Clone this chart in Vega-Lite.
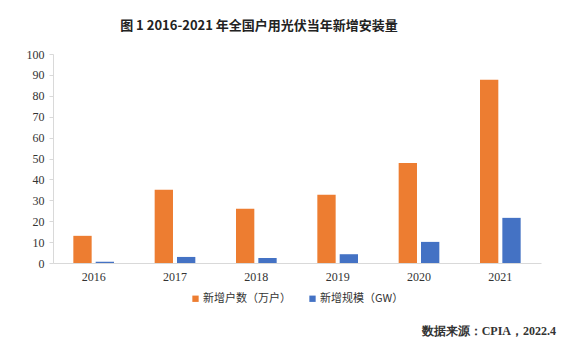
{
  "$schema": "https://vega.github.io/schema/vega-lite/v6.json",
  "padding": {"left": 26, "top": 20, "right": 30, "bottom": 10},
  "background": "white",
  "title": {
    "text": "图 1 2016-2021 年全国户用光伏当年新增安装量",
    "font": "Noto Sans CJK SC",
    "fontSize": 13,
    "fontWeight": "bold",
    "color": "#222222",
    "anchor": "middle",
    "frame": "group",
    "dx": -38,
    "offset": 15
  },
  "vconcat": [
    {
      "width": 488,
      "height": 209,
      "title": {
        "text": "数据来源：CPIA，2022.4",
        "orient": "bottom",
        "anchor": "end",
        "frame": "group",
        "font": "Liberation Serif",
        "fontSize": 12,
        "fontWeight": "bold",
        "color": "#333333",
        "dx": 15,
        "offset": 22
      },
      "data": {
        "values": [
          {"year": "2016", "series": "新增户数（万户）", "value": 13.0},
          {"year": "2016", "series": "新增规模（GW）", "value": 0.6},
          {"year": "2017", "series": "新增户数（万户）", "value": 35.1},
          {"year": "2017", "series": "新增规模（GW）", "value": 2.9},
          {"year": "2018", "series": "新增户数（万户）", "value": 26.0},
          {"year": "2018", "series": "新增规模（GW）", "value": 2.4},
          {"year": "2019", "series": "新增户数（万户）", "value": 32.6},
          {"year": "2019", "series": "新增规模（GW）", "value": 4.2},
          {"year": "2020", "series": "新增户数（万户）", "value": 47.8},
          {"year": "2020", "series": "新增规模（GW）", "value": 10.1},
          {"year": "2021", "series": "新增户数（万户）", "value": 87.7},
          {"year": "2021", "series": "新增规模（GW）", "value": 21.6}
        ]
      },
      "mark": {"type": "bar"},
      "encoding": {
        "x": {
          "field": "year",
          "type": "nominal",
          "scale": {"paddingInner": 0.5, "paddingOuter": 0.25},
          "axis": {
            "title": null,
            "labelAngle": 0,
            "ticks": false,
            "labelPadding": 8,
            "labelFont": "Liberation Serif",
            "labelFontSize": 12,
            "labelColor": "#333333",
            "domainColor": "#d9d9d9",
            "domainWidth": 1
          }
        },
        "xOffset": {
          "field": "series",
          "type": "nominal",
          "sort": ["新增户数（万户）", "新增规模（GW）"],
          "scale": {"paddingInner": 0.18, "paddingOuter": 0}
        },
        "y": {
          "field": "value",
          "type": "quantitative",
          "scale": {"domain": [0, 100], "nice": false},
          "axis": {
            "title": null,
            "values": [0, 10, 20, 30, 40, 50, 60, 70, 80, 90, 100],
            "grid": false,
            "tickSize": 4,
            "tickColor": "#d9d9d9",
            "labelPadding": 5,
            "labelFont": "Liberation Serif",
            "labelFontSize": 12,
            "labelColor": "#333333",
            "domainColor": "#d9d9d9"
          }
        },
        "color": {
          "field": "series",
          "type": "nominal",
          "sort": ["新增户数（万户）", "新增规模（GW）"],
          "scale": {"range": ["#ED7D31", "#4472C4"]},
          "legend": {
            "title": null,
            "orient": "bottom",
            "direction": "horizontal",
            "symbolType": "square",
            "symbolSize": 40,
            "symbolStrokeWidth": 0,
            "labelFont": "Noto Sans CJK SC",
            "labelFontSize": 11,
            "labelColor": "#333333",
            "columnPadding": 16,
            "labelOffset": 2,
            "offset": 11
          }
        }
      }
    }
  ],
  "resolve": {"legend": {"color": "independent"}, "scale": {"color": "independent"}},
  "config": {
    "view": {"stroke": null},
    "legend": {"layout": {"bottom": {"anchor": "middle"}}}
  }
}
